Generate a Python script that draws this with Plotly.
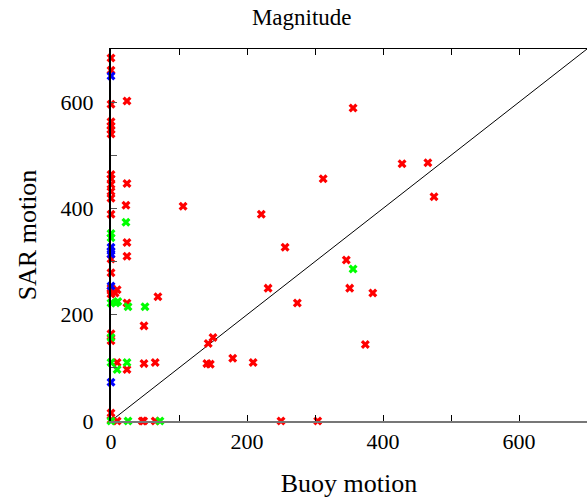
import plotly.graph_objects as go

# Red series
red_x = [0, 0, 0, 0, 0, 0, 0, 0, 0, 0, 0, 0, 0, 0, 0, 0, 0, 0, 0, 0, 0, 0,
         9, 6, 9, 23.5, 23.5, 22, 23.5, 23.5, 23.5, 23.5, 48.5, 48.5, 65, 69,
         106, 143, 141, 146, 150, 179, 209, 221, 231, 256, 274, 312, 346, 351,
         356, 374, 385, 428, 466, 475,
         9, 46, 48, 65, 250, 304]
red_y = [683, 660, 596, 563, 555, 548, 540, 464, 456, 445, 432, 419, 389, 305,
         279, 250, 245, 239, 164, 151, 15, 2,
         247, 241, 110, 602, 447, 406, 336, 310, 222, 97, 179, 108, 110, 234,
         404, 146, 108, 107, 157, 118, 110, 389, 250, 327, 222, 456, 303, 250,
         589, 144, 241, 484, 486, 422,
         0, 0, 0, 0, 0, 0]

# Green series
green_x = [22, 0, 0, 0, 7, 25, 50, 0, 0, 9, 23.5, 0, 25, 72, 356, 10]
green_y = [374, 353, 345, 222, 222, 215, 215, 157, 110, 97, 110, 0, 0, 0, 286, 225]

# Blue series
blue_x = [0, 0, 0, 0, 0, 0]
blue_y = [649, 327, 320, 314, 254, 73]

ticks = [0, 100, 200, 300, 400, 500, 600, 700]
tick_text = ["0", "", "200", "", "400", "", "600", ""]
axis_max = 700

font = "Liberation Serif"

fig = go.Figure()
fig.add_trace(go.Scatter(x=[0, axis_max], y=[0, axis_max], mode="lines",
                         line=dict(color="black", width=1), showlegend=False,
                         hoverinfo="skip"))
for xs, ys, col in [(red_x, red_y, "#ff0000"), (green_x, green_y, "#00ff00"),
                    (blue_x, blue_y, "#0000ff")]:
    fig.add_trace(go.Scatter(x=xs, y=ys, mode="markers", showlegend=False,
                             marker=dict(symbol="x", size=8, color=col,
                                         line=dict(width=0)),
                             cliponaxis=False))

# top axis for mirrored ticks
fig.add_trace(go.Scatter(x=[None], y=[None], xaxis="x2", showlegend=False))

fig.update_layout(
    width=587, height=500,
    margin=dict(l=111, r=0, t=49, b=79),
    paper_bgcolor="white", plot_bgcolor="white",
    title=dict(text="Magnitude", x=0.514, xref="container", xanchor="center",
               y=0.966, yref="container", yanchor="middle",
               font=dict(family=font, size=23, color="black")),
    xaxis=dict(range=[0, axis_max], tickvals=ticks, ticktext=tick_text,
               ticks="inside", ticklen=6, tickcolor="black", showgrid=False,
               zeroline=False, showline=True, linecolor="#777777", linewidth=2,
               tickfont=dict(family=font, size=22, color="black"),
               title=dict(text="Buoy motion", standoff=20,
                          font=dict(family=font, size=26, color="black"))),
    xaxis2=dict(range=[0, axis_max], overlaying="x", side="top",
                tickvals=ticks, ticks="inside", ticklen=6, tickcolor="black",
                showticklabels=False, showgrid=False, zeroline=False,
                showline=True, linecolor="black", linewidth=1),
    yaxis=dict(range=[0, axis_max], tickvals=ticks, ticktext=tick_text,
               ticks="inside", ticklen=6, tickcolor="#555555", showgrid=False,
               zeroline=False, showline=True, linecolor="black", linewidth=2,
               ticklabelstandoff=11,
               tickfont=dict(family=font, size=22, color="black"),
               title=dict(text="SAR motion", standoff=16,
                          font=dict(family=font, size=26, color="black"))),
)

fig.write_html("out.html")
